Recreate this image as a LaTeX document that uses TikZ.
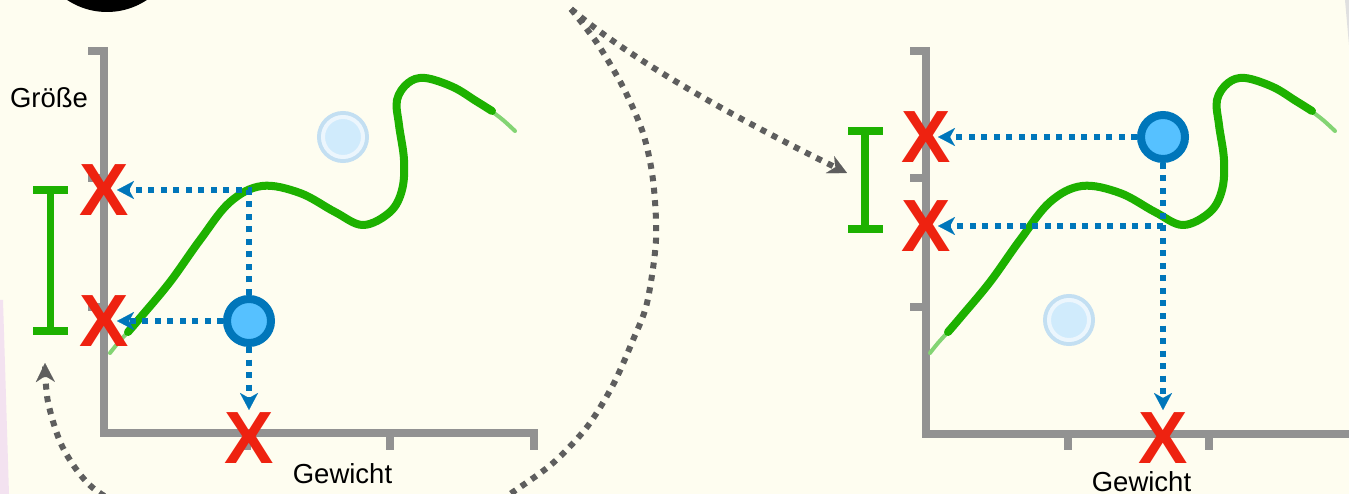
\documentclass[tikz,border=0pt]{standalone}
\usepackage{fontspec}
\setmainfont{Liberation Sans}
\usetikzlibrary{arrows.meta}
\pgfdeclarelayer{back}
\pgfsetlayers{back,main}
\definecolor{bg}{RGB}{254,253,240}
\definecolor{axisgray}{RGB}{146,146,146}
\definecolor{xred}{RGB}{238,34,16}
\definecolor{ptblue}{RGB}{0,118,186}
\definecolor{ptfill}{RGB}{86,193,255}
\definecolor{curvegreen}{RGB}{29,177,0}
\definecolor{arcgray}{RGB}{94,94,94}
\definecolor{ghostband}{RGB}{195,223,242}
\definecolor{ghostfill}{RGB}{208,235,252}
\definecolor{ghostring}{RGB}{236,246,253}
\definecolor{pinkedge}{RGB}{243,226,240}
\newcommand\drawgreencurve{%
  \draw[curvegreen!55, line width=4pt, line cap=round] plot[smooth, tension=0.6] coordinates {(490,110) (503,120) (515,131)};%
  \draw[curvegreen!55, line width=4pt, line cap=round] plot[smooth, tension=0.6] coordinates {(128,332) (118,343) (110,353)};%
  \draw[greencurve] plot[smooth, tension=0.6] coordinates {(128,332) (140,318) (170,282) (200,240) (230,202) (262,186) (300,193) (335,212) (363,225) (390,212) (402,190) (404,160) (399,125) (397,100) (408,83) (425,78) (453,87) (476,101) (492,111)};}
\begin{document}
\begin{tikzpicture}[x=1pt,y=-1pt,
  axisline/.style={axisgray, line width=8pt, line join=miter},
  redx/.style={text=xred, font=\bfseries\fontsize{74}{74}\selectfont, inner sep=0pt},
  bluept/.style={circle, draw=ptblue, fill=ptfill, line width=8pt, minimum size=44pt, inner sep=0pt},
  ghost/.style={circle, draw=ghostband, fill=ghostfill, line width=4pt, minimum size=48pt, inner sep=0pt},
  bluedot/.style={ptblue, line width=6pt, dash pattern=on 6pt off 6.5pt, -{Stealth[length=17pt,width=18pt,inset=5pt,line width=0.1pt]}},
  graydot/.style={arcgray, line width=6pt, dash pattern=on 6pt off 6.5pt, -{Stealth[length=19pt,width=19pt,inset=6pt,line width=0.1pt]}},
  errbar/.style={curvegreen, line width=7.5pt},
  greencurve/.style={curvegreen, line width=8pt, line cap=round, line join=round},
  axlabel/.style={font=\fontsize{27.5}{30}\selectfont, inner sep=0pt, anchor=base},
]
\useasboundingbox (0,0) rectangle (1349,494);
\clip (0,0) rectangle (1349,494);

% ---------- nodes (front) ----------
\node[redx] (XL1) at (104,190) {X};
\node[redx] (XL2) at (104,321) {X};
\node[redx] (XL3) at (249,438) {X};
\node[bluept] (PL) at (249,321) {};
\node[ghost] (GL) at (343,137) {};
\draw[ghostring, line width=4pt] (GL.center) circle[radius=20];
\node[axlabel] (ylab) at (49,108) {Größe};
\node[axlabel] (xlabL) at (342.5,483.5) {Gewicht};

\node[ghost] (GR) at (1069,320) {};
\draw[ghostring, line width=4pt] (GR.center) circle[radius=20];
\node[redx] (XR1) at (926,137) {X};
\node[redx] (XR2) at (926,226) {X};
\node[redx] (XR3) at (1163,438) {X};
\node[bluept] (PR) at (1163,137) {};
\coordinate (CR) at (PR |- XR2);
\node[axlabel] (xlabR) at (1141.5,491) {Gewicht};

% ---------- back layer ----------
\begin{pgfonlayer}{back}
\begin{scope}
\clip (0,0) rectangle (1349,494);
\fill[bg] (0,0) rectangle (1349,494);
\fill[pinkedge] (0,300) -- (3,300) -- (9,494) -- (0,494) -- cycle;
\fill[black!12] (1345,0) -- (1349,0) -- (1349,45) -- cycle;
\fill[black] (107,-60) circle[radius=72];

% left chart
\draw[axisline] (88,51) -- (104,51) -- (104,433) -- (533.5,433) -- (533.5,450);
\draw[axisline] (88,178) -- (104,178) (88,307) -- (104,307) (247,433) -- (247,450) (390,433) -- (390,450);
\draw[errbar] (33,190) -- (68,190) (50.5,190) -- (50.5,331) (33,331) -- (68,331);
\drawgreencurve
\draw[bluedot, shorten >=13pt] (PL) -- (PL |- XL1) -- (XL1.center);
\draw[bluedot, shorten >=13pt] (PL) -- (XL2.center);
\draw[bluedot, shorten >=28pt] (PL) -- (XL3.center);

% right chart
\draw[axisline] (910,51) -- (926,51) -- (926,434) -- (1360,434);
\draw[axisline] (910,178) -- (926,178) (910,307) -- (926,307) (1068,434) -- (1068,450) (1209,434) -- (1209,450);
\draw[errbar] (848,131) -- (883,131) (865,131) -- (865,229) (848,229) -- (883,229);
\begin{scope}[xshift=820pt]
\drawgreencurve
\end{scope}
\draw[bluedot, shorten >=12pt] (PR) -- (XR1.center);
\draw[bluedot, shorten >=12pt] (CR) -- (XR2.center);
\draw[bluedot, shorten >=28pt] (PR) -- (XR3.center);

% gray arrows
\coordinate (src) at (571,9);
\coordinate (tgtL) at (45,363);
\coordinate (tgtR) at (847,173);
\draw[graydot] (src) .. controls (627,56) and (717,109) .. (tgtR);
\draw[graydot] plot[smooth] coordinates {(src) (597,43) (623,87) (643,133) (653,180) (656,240) (647,303) (633,340) (613,385) (587,427) (553,463) (513,492) (465,524) (395,548) (310,556) (225,545) (150,520) (93,488) (63,448) (48,402) (tgtL)};
\end{scope}
\end{pgfonlayer}
\end{tikzpicture}
\end{document}
